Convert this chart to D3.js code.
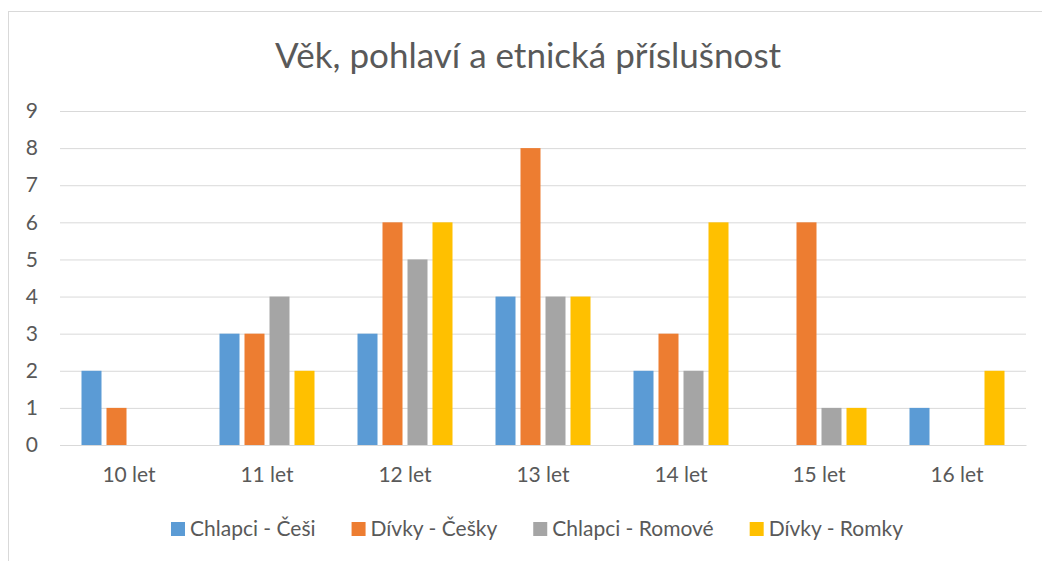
<!DOCTYPE html>
<html>
<head>
<meta charset="utf-8">
<script src="https://cdn.jsdelivr.net/npm/d3@7"></script>
<style>
  body { margin: 0; background: #fff; }
  text { font-family: Lato, "Open Sans", sans-serif; fill: #595959; }
</style>
</head>
<body>
<div id="chart-area"></div>
<script>
var categories = ["10 let", "11 let", "12 let", "13 let", "14 let", "15 let", "16 let"];
var seriesNames = ["Chlapci - Češi", "Dívky - Češky", "Chlapci - Romové", "Dívky - Romky"];
var chlapciCesi = [2, 3, 3, 4, 2, 0, 1];
var divkyCesky = [1, 3, 6, 8, 3, 6, 0];
var chlapciRomove = [0, 4, 5, 4, 2, 1, 0];
var divkyRomky = [0, 2, 6, 4, 6, 1, 2];
var yTicks = [0, 1, 2, 3, 4, 5, 6, 7, 8, 9];
var colors = ["#5B9BD5", "#ED7D31", "#A5A5A5", "#FFC000"];

var width = 1042;
var height = 561;
var plot = {left: 60, right: 1026, top: 111, bottom: 445};

var svg = d3.select("#chart-area").append("svg")
    .attr("width", width)
    .attr("height", height);

svg.append("rect")
    .attr("width", width).attr("height", height)
    .attr("fill", "#fff");

// chart frame (runs off the right/bottom edge like the screenshot)
svg.append("rect")
    .attr("x", 8.5).attr("y", 11.5)
    .attr("width", 1100).attr("height", 600)
    .attr("fill", "none")
    .attr("stroke", "#d9d9d9");

var values = [chlapciCesi, divkyCesky, chlapciRomove, divkyRomky];
var data = categories.map((c, i) => {
    return {cat: c, vals: seriesNames.map((s, j) => { return {name: s, value: values[j][i], idx: j}; })};
});

var x0 = d3.scaleBand()
    .domain(categories)
    .range([plot.left, plot.right]);

var groupW = 95;
var x1 = d3.scaleBand()
    .domain(seriesNames)
    .range([0, groupW])
    .paddingInner(0.2);

var y = d3.scaleLinear()
    .domain([0, 9])
    .range([plot.bottom, plot.top]);

// gridlines
var yAxis = svg.append("g")
    .attr("transform", "translate(" + plot.left + ",0)")
    .call(d3.axisLeft(y).tickValues(yTicks).tickSize(-(plot.right - plot.left)).tickPadding(22));
yAxis.select(".domain").remove();
yAxis.selectAll(".tick line").attr("stroke", "#d9d9d9");
yAxis.selectAll(".tick text")
    .attr("font-size", "21px")
    .attr("fill", "#595959")
    .style("font-family", "Lato, sans-serif");

// bars
var groups = svg.selectAll(".grp")
    .data(data)
    .enter().append("g")
    .attr("class", "grp")
    .attr("transform", (d) => { return "translate(" + (x0(d.cat) + (x0.bandwidth() - groupW) / 2) + ",0)"; });

groups.selectAll("rect")
    .data((d) => { return d.vals.filter((v) => { return v.value > 0; }); })
    .enter().append("rect")
    .attr("x", (d) => { return x1(d.name); })
    .attr("y", (d) => { return y(d.value); })
    .attr("width", x1.bandwidth())
    .attr("height", (d) => { return y(0) - y(d.value); })
    .attr("fill", (d) => { return colors[d.idx]; });

// x axis
var xAxis = svg.append("g")
    .attr("transform", "translate(0," + plot.bottom + ")")
    .call(d3.axisBottom(x0).tickSize(0).tickPadding(22));
xAxis.select(".domain").attr("stroke", "#d9d9d9");
xAxis.selectAll(".tick text")
    .attr("font-size", "21px")
    .attr("fill", "#595959")
    .style("font-family", "Lato, sans-serif");

// title
svg.append("text")
    .attr("x", 528)
    .attr("y", 68)
    .attr("text-anchor", "middle")
    .attr("font-size", "35px")
    .text("Věk, pohlaví a etnická příslušnost");

// legend
var legend = svg.append("g");
var lx = 0;
seriesNames.forEach((s, i) => {
    var item = legend.append("g").attr("transform", "translate(" + lx + ",0)");
    item.append("rect")
        .attr("x", 0).attr("y", 522)
        .attr("width", 14).attr("height", 14)
        .attr("fill", colors[i]);
    var t = item.append("text")
        .attr("x", 19).attr("y", 536)
        .attr("font-size", "21px")
        .text(s);
    lx += 19 + t.node().getComputedTextLength() + 36;
});
var legW = lx - 36;
legend.attr("transform", "translate(" + (537 - legW / 2) + ",0)");
</script>
</body>
</html>
